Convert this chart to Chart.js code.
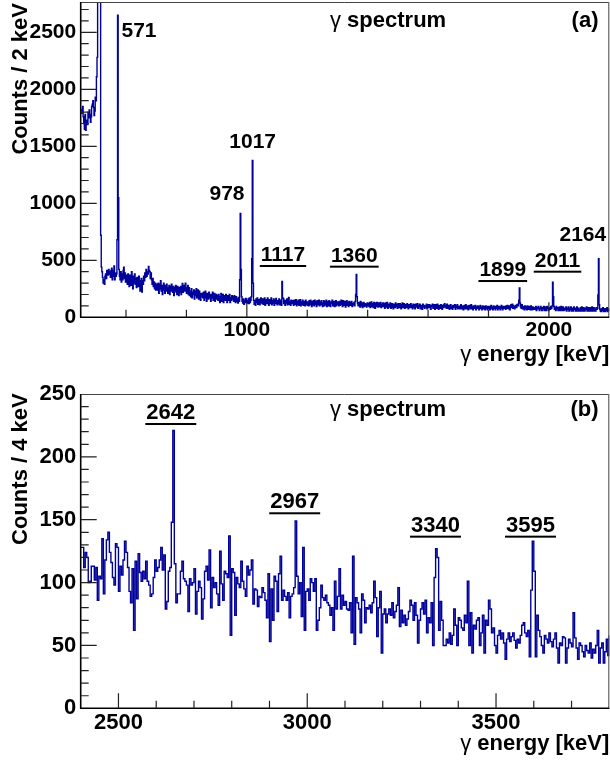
<!DOCTYPE html>
<html>
<head>
<meta charset="utf-8">
<script src="https://cdn.jsdelivr.net/npm/chart.js@4.4.1/dist/chart.umd.min.js"></script>
<style>
html, body { margin: 0; padding: 0; background: #fff; }
#wrap { position: relative; width: 610px; height: 762px; }
canvas { position: absolute; left: 0; }
#chartA { top: 0; }
#chartB { top: 380px; }
</style>
</head>
<body>
<div id="wrap">
<canvas id="chartA" width="610" height="380"></canvas>
<canvas id="chartB" width="610" height="382"></canvas>
</div>
<script>
// ---- panel (a): counts per 2 keV bin, first bin starts at 450 keV ----
var binStartA = 450, binWidthA = 2;
var countsA = [
  1820,1790,1850,1760,1700,1650,1780,1640,1700,1730,1690,1800,1750,1820,1780,1710,1760,1850,1870,1900,1840,1770,1810,1930,1900,
  2110,2280,3000,5200,9500,12000,6000,720,440,400,350,300,330,290,360,380,340,410,390,370,420,400,380,350,410,
  430,330,410,360,450,330,390,360,380,680,2650,1050,420,360,330,400,310,380,330,410,440,340,390,310,370,
  360,290,380,320,270,370,340,280,400,310,250,360,300,380,290,340,260,350,300,270,360,320,230,290,340,
  222,320,290,360,320,390,350,420,360,400,380,445,410,400,340,390,330,290,340,270,310,250,300,240,290,
  280,240,300,210,290,250,320,230,280,200,270,300,240,210,280,230,290,260,210,250,280,200,270,230,290,
  260,220,270,190,260,230,280,220,200,270,240,190,260,220,270,200,240,298,220,250,280,230,300,260,210,
  250,280,200,260,190,230,180,250,170,220,200,240,160,230,190,250,170,210,240,160,230,190,150,210,180,
  210,170,220,150,190,230,170,140,210,180,160,220,170,200,140,200,170,220,150,190,210,140,180,200,160,
  190,150,200,160,130,180,210,140,170,200,130,170,190,150,200,160,130,190,150,170,200,130,170,150,190,
  160,180,140,190,150,130,180,140,160,125,175,140,330,910,420,180,140,125,160,115,150,130,165,145,125,
  140,160,120,170,130,150,180,515,1377,300,150,115,145,105,160,130,170,115,155,135,110,160,170,130,120,
  160,115,140,170,105,155,135,120,170,140,105,155,120,150,170,110,145,125,160,105,150,120,165,135,110,
  145,120,160,110,150,130,105,315,170,165,120,150,105,145,125,160,110,140,175,115,140,105,150,120,145,
  140,105,150,115,130,155,100,140,115,150,105,135,155,100,135,115,150,105,140,125,100,150,115,135,105,
  135,100,145,110,150,120,95,140,110,145,100,150,115,135,95,145,110,125,150,100,135,110,145,120,95,
  125,145,100,135,110,150,95,125,140,100,145,110,95,135,120,150,100,115,140,95,125,145,100,115,135,
  120,100,140,105,125,150,115,95,145,105,125,140,90,120,145,105,130,95,140,115,105,130,140,95,120,
  110,130,100,140,200,375,180,120,100,130,105,90,140,100,125,85,110,130,95,120,100,115,90,125,105,
  120,95,130,85,110,135,95,120,85,130,105,80,125,95,130,110,90,125,95,110,130,85,115,95,125,
  95,120,80,125,100,90,130,80,105,115,90,125,80,105,120,90,75,115,100,85,125,95,110,80,120,
  110,85,120,95,75,110,125,85,100,120,80,110,95,85,120,100,75,110,85,100,120,85,105,75,115,
  90,110,75,115,90,100,120,80,105,90,115,75,105,90,70,115,90,105,80,100,90,115,75,95,110,
  85,110,90,70,105,95,115,80,95,110,70,95,110,80,115,95,70,105,90,80,110,95,70,105,85,
  110,120,90,105,80,115,90,80,105,70,95,110,80,95,70,105,85,95,110,70,85,100,110,75,95,
  85,75,100,110,75,90,100,65,90,105,75,110,85,75,100,65,90,105,75,90,110,75,95,65,100,
  80,95,105,65,90,80,100,90,65,80,105,90,75,65,100,90,75,95,65,100,80,95,65,80,95,
  95,65,80,105,75,90,65,100,80,95,65,80,95,105,65,80,95,80,65,90,105,80,65,95,80,
  80,95,70,100,80,105,90,75,100,65,90,110,85,115,80,105,95,75,90,105,85,110,115,100,150,
  257,125,90,80,110,75,95,85,65,100,75,90,65,100,80,70,95,80,65,100,80,65,90,80,70,
  85,70,95,60,85,75,95,80,60,75,95,75,60,85,75,95,60,75,90,60,75,95,85,60,80,
  85,70,95,80,100,307,180,95,70,85,60,95,75,85,60,75,90,60,75,95,60,75,90,60,80,
  65,80,90,55,80,70,90,55,80,65,90,55,80,70,55,90,70,80,55,65,90,55,80,70,55,
  70,85,55,90,70,55,85,70,55,80,70,90,55,70,85,55,75,85,55,70,90,55,70,85,55,
  70,55,85,70,80,195,515,110,70,55,50,75,60,85,50,75,60,50,75,60,85,50,75,60,70
];
var yTicksA = [0, 500, 1000, 1500, 2000, 2500];
var xTicksA = [1000, 2000];

// ---- panel (b): counts per 4 keV bin, first bin starts at 2400 keV ----
var binStartB = 2400, binWidthB = 4;
var countsB = [
  128,112,124,120,100,101,113,113,102,112, 86,105,103,135,91,118,134,140,124,116,
  104,98,131,128,93,113,106,118,133,124, 112,93,84,111,62,117,87,123,108,101,
  109,103,117,101,98,89,91,104,118,109, 112,118,128,110,122,79,85,109,112,148,
  221,115,84,91,91,109,117,103,101,98, 77,103,98,100,111,75,93,101,96,71,
  87,109,113,102,126,80,104,96,100,91, 82,125,99,86,109,107,104,137,58,111,
  108,74,104,99,96,117,101,95,89,113, 106,110,118,83,95,94,81,89,88,96,
  92,86,72,107,53,95,70,105,101,77, 107,121,86,94,89,86,92,72,89,91,
  96,149,105,91,100,73,128,62,93,95, 86,103,100,93,103,62,70,80,98,88,
  86,90,84,82,74,80,62,101,79,89, 111,79,90,82,85,79,78,84,60,121,
  51,88,84,79,60,91,86,68,80,79, 82,76,84,101,88,57,80,93,44,75,
  79,68,75,79,74,84,72,77,82,96, 65,78,68,74,66,71,77,86,82,70,
  84,74,52,70,79,84,75,86,60,72, 68,84,50,104,127,120,62,85,70,50,
  50,55,52,60,51,58,79,66,50,72, 70,64,62,74,68,101,50,76,44,66,
  63,70,72,50,60,74,44,70,66,86, 79,60,64,50,44,58,62,55,60,52,
  39,55,60,53,57,60,54,48,55,52, 58,66,68,60,57,62,41,94,133,109,
  41,74,62,57,50,44,58,55,52,60, 53,49,55,60,48,36,52,50,57,56,
  36,48,55,52,49,76,56,48,39,52, 50,45,41,50,46,44,52,40,47,44,
  50,62,36,48,52,36,45,55,42,58
];
var yTicksB = [0, 50, 100, 150, 200, 250];
var xTicksB = [2500, 3000, 3500];

// peak labels: text, placed at (energy, counts) of the label's baseline centre
var peaksA = [
  {text: '571',  e: 643,    c: 2456, under: false},
  {text: '978',  e: 934.3,  c: 1029, under: false},
  {text: '1017', e: 1019.4, c: 1482, under: false},
  {text: '1117', e: 1119.7, c: 494,  under: true},
  {text: '1360', e: 1355.8, c: 488,  under: true},
  {text: '1899', e: 1847.4, c: 362,  under: true},
  {text: '2011', e: 2028.5, c: 444,  under: true},
  {text: '2164', e: 2112.3, c: 672,  under: false}
];
var peaksB = [
  {text: '2642', e: 2638.6, c: 230.1, under: true},
  {text: '2967', e: 2966.8, c: 159.1, under: true},
  {text: '3340', e: 3339.7, c: 140.5, under: true},
  {text: '3595', e: 3591.3, c: 140.5, under: true}
];

var FONT = '"Liberation Sans", Arial, Helvetica, sans-serif';

function histPoints(start, width, counts) {
  var pts = [{x: start, y: counts[0]}];
  for (var i = 0; i < counts.length; i++) {
    pts.push({x: start + (i + 1) * width, y: counts[i]});
  }
  return pts;
}

function gammaText(ctx, x, y, rest, size, alignRight) {
  ctx.font = size + 'px ' + FONT;
  var wg = ctx.measureText('\u03b3').width;
  ctx.font = 'bold ' + size + 'px ' + FONT;
  var ws = ctx.measureText(' ').width;
  var wr = ctx.measureText(rest).width;
  var x0 = alignRight ? x - wr - ws - wg : x;
  ctx.textAlign = 'left';
  ctx.font = size + 'px ' + FONT;
  ctx.fillText('\u03b3', x0, y);
  ctx.font = 'bold ' + size + 'px ' + FONT;
  ctx.fillText(rest, x0 + wg + ws, y);
}

// ROOT-like frame, inner tick marks and text
var rootStyle = {
  id: 'rootStyle',
  afterDatasetsDraw: function (chart, args, o) {
    var ctx = chart.ctx, area = chart.chartArea;
    var xs = chart.scales.x, ys = chart.scales.y;
    var k, v, p, len;
    ctx.save();

    ctx.strokeStyle = '#444';
    ctx.lineWidth = 1;
    ctx.beginPath();
    ctx.moveTo(area.left, area.top + 0.5);
    ctx.lineTo(area.right - 0.5, area.top + 0.5);
    ctx.lineTo(area.right - 0.5, area.bottom);
    ctx.stroke();

    ctx.strokeStyle = '#000';
    ctx.lineWidth = 1.6;
    ctx.beginPath();
    ctx.moveTo(area.left, area.top);
    ctx.lineTo(area.left, area.bottom);
    ctx.lineTo(area.right, area.bottom);
    ctx.stroke();

    ctx.strokeStyle = '#222';
    ctx.lineWidth = 1.2;
    ctx.beginPath();
    for (k = 1; k * o.yMinor < ys.max; k++) {
      v = k * o.yMinor;
      len = (v % o.yMajor === 0) ? 16 : 8;
      p = ys.getPixelForValue(v);
      ctx.moveTo(area.left, p);
      ctx.lineTo(area.left + len, p);
    }
    for (k = Math.floor(xs.min / o.xMinor) + 1; k * o.xMinor < xs.max; k++) {
      v = k * o.xMinor;
      len = (v % o.xMajor === 0) ? 15 : 7.5;
      p = xs.getPixelForValue(v);
      ctx.moveTo(p, area.bottom);
      ctx.lineTo(p, area.bottom - len);
    }
    ctx.stroke();

    ctx.fillStyle = '#000';
    ctx.textBaseline = 'alphabetic';
    ctx.font = 'bold ' + o.labelSize + 'px ' + FONT;
    ctx.textAlign = 'center';
    o.peaks.forEach(function (pk) {
      var px = xs.getPixelForValue(pk.e), py = ys.getPixelForValue(pk.c);
      var w = ctx.measureText(pk.text).width;
      ctx.fillText(pk.text, px, py);
      if (pk.under) ctx.fillRect(px - w / 2 - 1, py + 4, w + 2, 2);
    });

    gammaText(ctx, o.title.x, o.title.y, 'spectrum', 22, false);
    ctx.font = 'bold 22px ' + FONT;
    ctx.textAlign = 'right';
    ctx.fillText(o.tag.text, o.tag.x, o.tag.y);

    gammaText(ctx, o.xTitle.x, o.xTitle.y, 'energy [keV]', 22, true);

    ctx.save();
    ctx.translate(o.yTitle.x, o.yTitle.y);
    ctx.rotate(-Math.PI / 2);
    ctx.font = 'bold 22px ' + FONT;
    ctx.textAlign = 'right';
    ctx.fillText(o.yTitle.text, 0, 0);
    ctx.restore();

    ctx.restore();
  }
};

function makeChart(id, d) {
  var tickFont = {family: FONT, size: d.tickSize, weight: 'bold'};
  return new Chart(document.getElementById(id), {
    type: 'line',
    data: {
      datasets: [{
        data: histPoints(d.start, d.width, d.counts),
        stepped: 'before',
        borderColor: 'rgb(0,0,155)',
        borderWidth: 1.4,
        pointRadius: 0,
        fill: false
      }]
    },
    options: {
      responsive: false,
      animation: false,
      events: [],
      devicePixelRatio: 1,
      layout: {padding: {top: d.padTop, right: 0.7, left: 0, bottom: 0}},
      scales: {
        x: {
          type: 'linear', min: d.xMin, max: d.xMax,
          afterBuildTicks: function (s) { s.ticks = d.xTicks.map(function (v) { return {value: v}; }); },
          afterFit: function (s) { s.height = d.xAxisHeight; s.paddingLeft = 0; s.paddingRight = 0; },
          grid: {display: false, drawTicks: false},
          border: {display: false},
          ticks: {font: tickFont, color: '#000', padding: d.xPad, autoSkip: false, maxRotation: 0,
                  callback: function (v) { return String(v); }}
        },
        y: {
          type: 'linear', min: 0, max: d.yMax,
          afterBuildTicks: function (s) { s.ticks = d.yTicks.map(function (v) { return {value: v}; }); },
          afterFit: function (s) { s.width = 80.7; s.paddingTop = 0; s.paddingBottom = 0; },
          grid: {display: false, drawTicks: false},
          border: {display: false},
          ticks: {font: tickFont, color: '#000', padding: 4.5,
                  callback: function (v) { return String(v); }}
        }
      },
      plugins: {
        legend: {display: false},
        tooltip: {enabled: false},
        rootStyle: d.style
      }
    },
    plugins: [rootStyle]
  });
}

makeChart('chartA', {
  start: binStartA, width: binWidthA, counts: countsA,
  xMin: 450, xMax: 2200, yMax: 2766, xTicks: xTicksA, yTicks: yTicksA,
  tickSize: 21, xPad: 0.8, padTop: 2, xAxisHeight: 62.7,
  style: {
    yMinor: 100, yMajor: 500, xMinor: 200, xMajor: 1000,
    labelSize: 21, peaks: peaksA,
    title: {x: 330, y: 26.7},
    tag: {text: '(a)', x: 598.5, y: 26.5},
    xTitle: {x: 609.3, y: 361},
    yTitle: {text: 'Counts / 2 keV', x: 26.5, y: 3}
  }
});

makeChart('chartB', {
  start: binStartB, width: binWidthB, counts: countsB,
  xMin: 2400, xMax: 3800, yMax: 250, xTicks: xTicksB, yTicks: yTicksB,
  tickSize: 22, xPad: 1.8, padTop: 14, xAxisHeight: 53.7,
  style: {
    yMinor: 10, yMajor: 50, xMinor: 100, xMajor: 500,
    labelSize: 22, peaks: peaksB,
    title: {x: 330, y: 36},
    tag: {text: '(b)', x: 598.5, y: 36},
    xTitle: {x: 609.3, y: 370.4},
    yTitle: {text: 'Counts / 4 keV', x: 26.5, y: 13.3}
  }
});
</script>
</body>
</html>
